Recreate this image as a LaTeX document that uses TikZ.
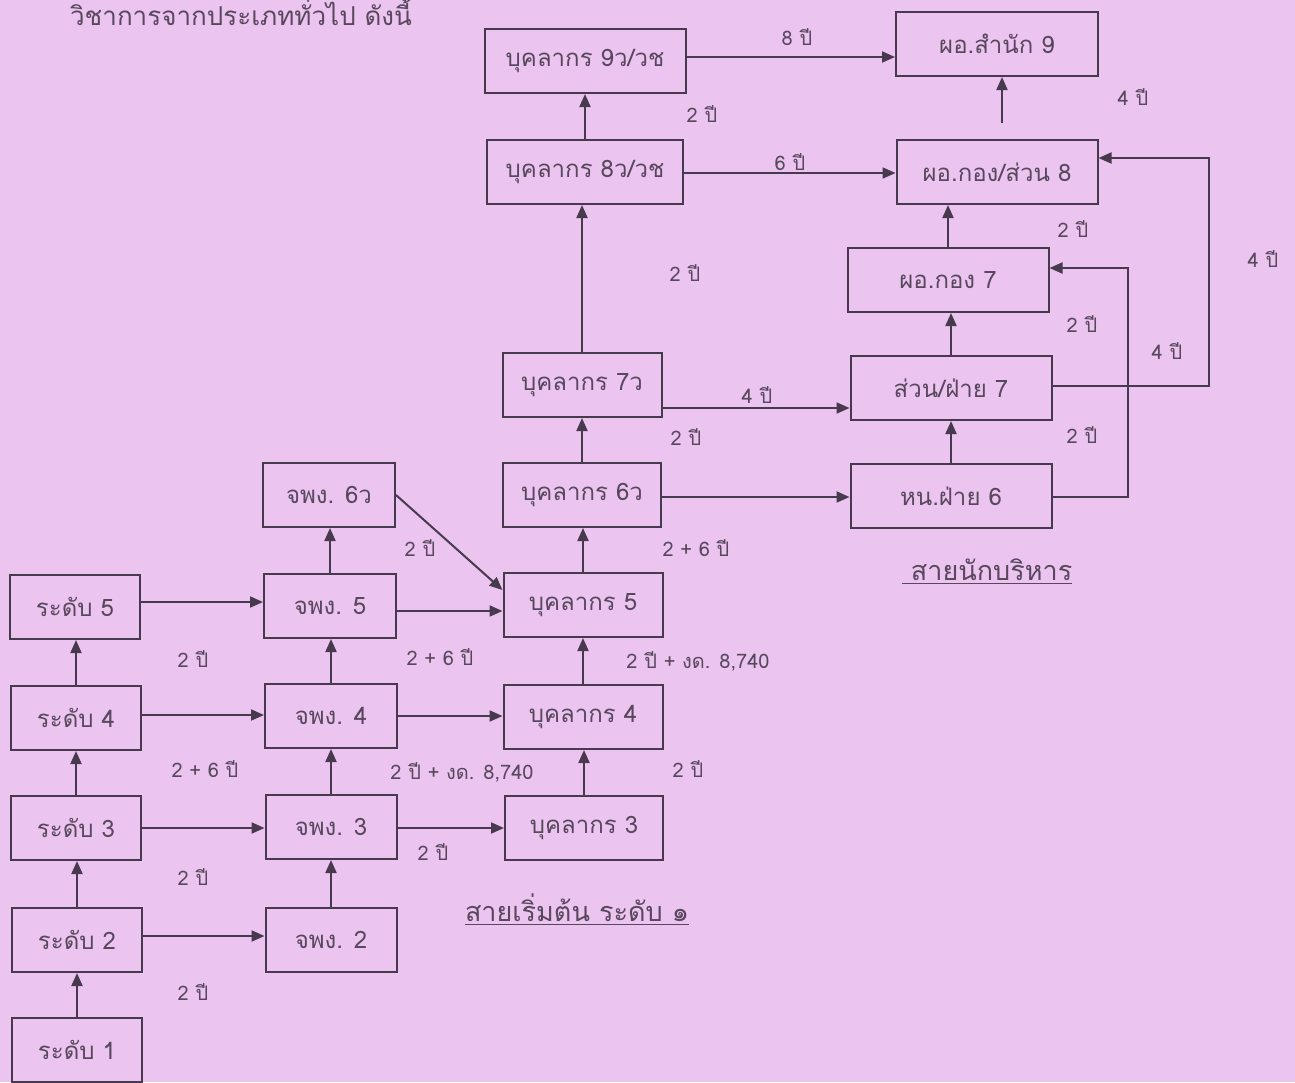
\documentclass[tikz,border=0pt]{standalone}
\usepackage{fontspec}
\newfontfamily\thaifont[Script=Thai]{Loma}
\usetikzlibrary{arrows.meta}
\definecolor{bg}{RGB}{236,196,240}
\definecolor{ink}{RGB}{72,58,78}
\definecolor{txt}{RGB}{88,72,94}
\begin{document}
\begin{tikzpicture}[x=0.5pt,y=-0.5pt,
  font=\thaifont\fontsize{12}{14}\selectfont,
  box/.style={draw=ink, line width=1pt, text=txt, minimum height=32pt, inner sep=0pt},
  lbl/.style={text=txt, inner sep=0pt, font=\thaifont\fontsize{10}{12}\selectfont},
  ttl/.style={text=txt, inner sep=0pt, font=\thaifont\fontsize{13.5}{15}\selectfont},
  arr/.style={draw=ink, line width=1pt, -{Triangle[length=6.5pt,width=5.5pt]}},
  ln/.style={draw=ink, line width=1pt}]
\fill[bg] (0,0) rectangle (1295,1082);
\useasboundingbox (0,0) rectangle (1295,1082);

\node[text=txt, inner sep=0pt, font=\thaifont\fontsize{13}{15}\selectfont, anchor=base] (top) at (241,25) {วิชาการจากประเภททั่วไป ดังนี้};

% column 1
\node[box, minimum width=65pt] (r5) at (75,607) {ระดับ 5};
\node[box, minimum width=65pt] (r4) at (76,718) {ระดับ 4};
\node[box, minimum width=65pt] (r3) at (76,828) {ระดับ 3};
\node[box, minimum width=65pt] (r2) at (77,940) {ระดับ 2};
\node[box, minimum width=65pt] (r1) at (77,1050) {ระดับ 1};
% column 2
\node[box, minimum width=66pt] (j6) at (329,495) {จพง. 6ว};
\node[box, minimum width=66pt] (j5) at (330,606) {จพง. 5};
\node[box, minimum width=66pt] (j4) at (331,716) {จพง. 4};
\node[box, minimum width=65.5pt] (j3) at (331,827) {จพง. 3};
\node[box, minimum width=65.5pt] (j2) at (331,940) {จพง. 2};
% column 3
\node[box, minimum width=79pt] (b3) at (584,828) {บุคลากร 3};
\node[box, minimum width=79.5pt] (b4) at (583,717) {บุคลากร 4};
\node[box, minimum width=79.5pt] (b5) at (583,605) {บุคลากร 5};
\node[box, minimum width=79pt] (b6) at (582,495) {บุคลากร 6ว};
\node[box, minimum width=79.5pt] (b7) at (582,385) {บุคลากร 7ว};
\node[box, minimum width=98pt] (b8) at (585,172) {บุคลากร 8ว/วช};
\node[box, minimum width=100.5pt] (b9) at (585,61) {บุคลากร 9ว/วช};
% column 4
\node[box, minimum width=101pt] (d9) at (997,44) {ผอ.สำนัก 9};
\node[box, minimum width=100.5pt] (d8) at (997,172) {ผอ.กอง/ส่วน 8};
\node[box, minimum width=100.5pt] (d7) at (948,280) {ผอ.กอง 7};
\node[box, minimum width=100.5pt] (s7) at (951,388) {ส่วน/ฝ่าย 7};
\node[box, minimum width=100.5pt] (h6) at (951,496) {หน.ฝ่าย 6};

% vertical arrows
\draw[arr] (r1.north) -- (r1.north |- r2.south);
\draw[arr] (r2.north) -- (r2.north |- r3.south);
\draw[arr] (r3.north) -- (r3.north |- r4.south);
\draw[arr] (r4.north) -- (r4.north |- r5.south);
\draw[arr] (j2.north) -- (j2.north |- j3.south);
\draw[arr] (j3.north) -- (j3.north |- j4.south);
\draw[arr] (j4.north) -- (j4.north |- j5.south);
\draw[arr] (j5.north) -- (j5.north |- j6.south);
\draw[arr] (b3.north) -- (b3.north |- b4.south);
\draw[arr] (b4.north) -- (b4.north |- b5.south);
\draw[arr] (b5.north) -- (b5.north |- b6.south);
\draw[arr] (b6.north) -- (b6.north |- b7.south);
\draw[arr] (b7.north) -- (b7.north |- b8.south);
\draw[arr] (b8.north) -- (b8.north |- b9.south);
\draw[arr] (h6.north) -- (h6.north |- s7.south);
\draw[arr] (s7.north) -- (s7.north |- d7.south);
\draw[arr] (d7.north) -- (d7.north |- d8.south);
\coordinate (gap) at (1002,123);
\draw[arr] (gap) -- (gap |- d9.south);

% horizontal arrows
\draw[arr] (r5.east |- 0,602) -- (j5.west |- 0,602);
\draw[arr] (r4.east |- 0,715) -- (j4.west |- 0,715);
\draw[arr] (r3.east |- 0,828) -- (j3.west |- 0,828);
\draw[arr] (r2.east |- 0,936) -- (j2.west |- 0,936);
\draw[arr] (j5.east |- 0,611) -- (b5.west |- 0,611);
\draw[arr] (j4.east |- 0,716) -- (b4.west |- 0,716);
\draw[arr] (j3.east |- 0,828) -- (b3.west |- 0,828);
\draw[arr] (j6.east) -- (b5.west |- 0,590);
\draw[arr] (b6.east |- 0,497) -- (h6.west |- 0,497);
\draw[arr] (b7.east |- 0,408) -- (s7.west |- 0,408);
\draw[arr] (b8.east |- 0,173) -- (d8.west |- 0,173);
\draw[arr] (b9.east |- 0,57) -- (d9.west |- 0,57);

% elbow connectors
\coordinate (e1) at (1128,268);
\draw[arr] (h6.east |- 0,497) -| (e1) -- (d7.east |- e1);
\coordinate (e2) at (1209,158);
\draw[arr] (s7.east |- 0,386) -| (e2) -- (d8.east |- e2);

% labels
\node[lbl] (l1) at (797,37) {8 ปี};
\node[lbl] (l2) at (702,114) {2 ปี};
\node[lbl] (l3) at (790,162) {6 ปี};
\node[lbl] (l4) at (1133,97) {4 ปี};
\node[lbl] (l5) at (1073,229) {2 ปี};
\node[lbl] (l6) at (1263,259) {4 ปี};
\node[lbl] (l7) at (685,273) {2 ปี};
\node[lbl] (l8) at (757,395) {4 ปี};
\node[lbl] (l9) at (686,437) {2 ปี};
\node[lbl] (l10) at (1082,324) {2 ปี};
\node[lbl] (l11) at (1167,351) {4 ปี};
\node[lbl] (l12) at (1082,435) {2 ปี};
\node[lbl] (l13) at (696,548) {2 + 6 ปี};
\node[lbl] (l14) at (420,548) {2 ปี};
\node[lbl] (l15) at (193,659) {2 ปี};
\node[lbl] (l16) at (440,657) {2 + 6 ปี};
\node[lbl] (l17) at (698,661) {2 ปี + งด. 8,740};
\node[lbl] (l18) at (205,769) {2 + 6 ปี};
\node[lbl] (l19) at (462,772) {2 ปี + งด. 8,740};
\node[lbl] (l20) at (688,769) {2 ปี};
\node[lbl] (l21) at (433,852) {2 ปี};
\node[lbl] (l22) at (193,877) {2 ปี};
\node[lbl] (l23) at (193,992) {2 ปี};

% titles
\node[ttl] (t1) at (987,572) {\underline{\ สายนักบริหาร}};
\node[ttl] (t2) at (577,910) {\underline{สายเริ่มต้น ระดับ ๑}};
\end{tikzpicture}
\end{document}
